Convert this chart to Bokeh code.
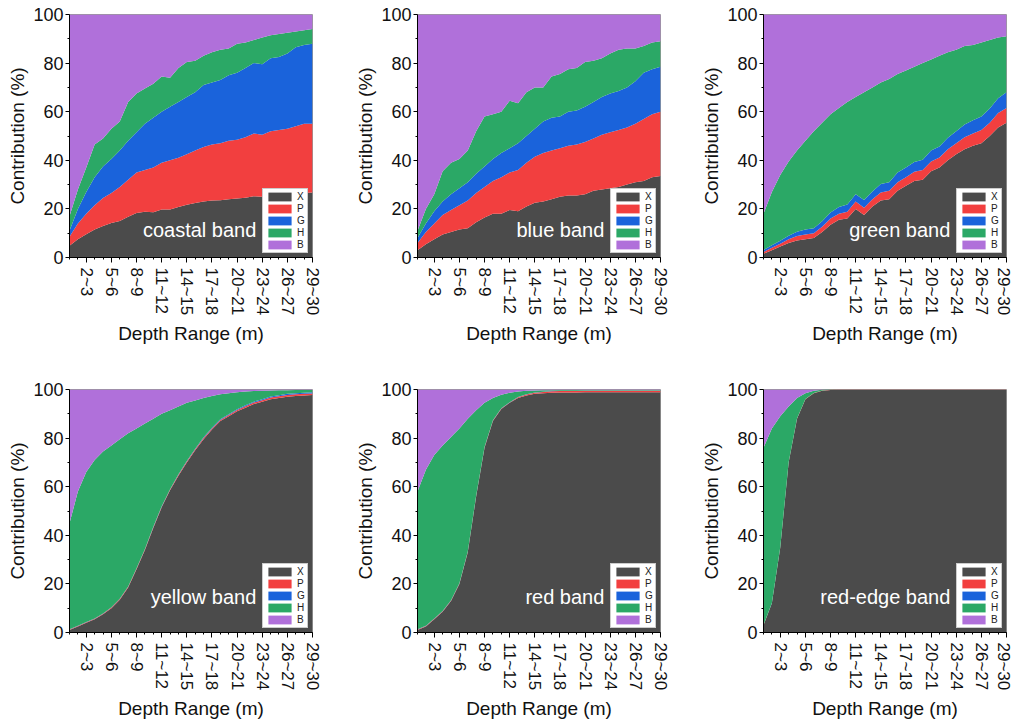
from bokeh.plotting import figure
from bokeh.models import Range1d, FixedTicker, Label, ColumnDataSource
from bokeh.layouts import column, row
from bokeh.embed import file_html
from bokeh.resources import INLINE

# ---------------- data ----------------
depth_ranges = ["0~1", "1~2", "2~3", "3~4", "4~5", "5~6", "6~7", "7~8", "8~9", "9~10",
                "10~11", "11~12", "12~13", "13~14", "14~15", "15~16", "16~17", "17~18",
                "18~19", "19~20", "20~21", "21~22", "22~23", "23~24", "24~25", "25~26",
                "26~27", "27~28", "28~29", "29~30"]
tick_labels = ["2~3", "5~6", "8~9", "11~12", "14~15", "17~18", "20~21", "23~24", "26~27", "29~30"]
components = ["X", "P", "G", "H", "B"]
component_colors = ["#4b4b4b", "#f23f3f", "#1a63db", "#2ba866", "#b070da"]
band_names = ["coastal band", "blue band", "green band", "yellow band", "red band", "red-edge band"]

coastal_X = [4.8, 7.5, 9.6, 11.5, 13, 14.2, 15, 16.8, 18.3, 18.8, 18.6, 19.8, 19.8, 20.8, 21.7,
             22.4, 23, 23.5, 23.6, 24, 24.3, 24.6, 25.2, 25, 25.4, 25.8, 26, 26.3, 26.5, 26.8]
coastal_P = [3.7, 6.5, 8.4, 10, 11.5, 12.3, 14, 15.2, 16.7, 17.2, 18.4, 19.2, 20.2, 20.2, 20.8,
             21.6, 22.5, 23, 23.4, 24, 24.2, 24.9, 25.8, 25.5, 26.6, 26.7, 27, 27.7, 28.5, 28.2]
coastal_G = [2.5, 6, 9, 11.5, 13, 14, 15, 16, 16.5, 19, 20.5, 21, 22, 23, 23.5,
             24, 25.5, 25.5, 26, 27, 27.5, 28.5, 29, 29, 30, 30, 31, 32.5, 32.5, 33]
coastal_H = [6, 8, 10, 13.5, 11.5, 12.5, 12, 16, 16, 14.5, 14, 14.5, 12, 14, 14.5,
             13, 12, 12.5, 12.5, 11, 12, 10.5, 9.5, 11, 9.5, 9.5, 8.5, 6.5, 6, 6]
coastal_B = [83, 72, 63, 53.5, 51, 47, 44, 36, 32.5, 30.5, 28.5, 25.5, 26, 22, 19.5,
             19, 17, 15.5, 14.5, 14, 12, 11.5, 10.5, 9.5, 8.5, 8, 7.5, 7, 6.5, 6]

blue_X = [3, 5.5, 7.5, 9.5, 10.5, 11.5, 12, 14.5, 16.5, 18, 18, 19.5, 19, 21, 22.5,
          23, 24, 25, 25.5, 25.5, 26, 27.5, 28, 28.5, 29, 30, 31, 31.5, 33, 33.5]
blue_P = [3, 5, 6.5, 8, 9, 10, 11.5, 12, 12.5, 13.5, 15, 15.5, 17, 18, 19,
          20, 20, 20, 20.5, 21, 21.5, 21.5, 22.5, 23, 23.5, 23.5, 24, 25.5, 26, 26.5]
blue_G = [2, 3.5, 5, 5.5, 6.5, 7, 7.5, 8, 8.5, 9, 10, 10, 11, 11, 11.5,
          13, 13.5, 13, 14, 14, 14.5, 15, 15.5, 16, 16, 16.5, 17.5, 19, 18.5, 18.5]
blue_H = [3, 6, 7, 12.5, 13, 12, 13, 17.5, 20.5, 18.5, 17, 19.5, 16.5, 18, 17,
          14, 17, 17.5, 17.5, 17.5, 18.5, 17, 16, 16.5, 17, 16, 13.5, 11, 11, 10.5]
blue_B = [89, 80, 74, 64.5, 61, 59.5, 56, 48, 42, 41, 40, 35.5, 36.5, 32, 30,
          30, 25.5, 24.5, 22.5, 22, 19.5, 19, 18, 16, 14.5, 14, 14, 13, 11.5, 11]

green_X = [1.5, 3, 4.5, 6, 7, 7.5, 8, 10.5, 13.5, 15.5, 16, 20, 17.5, 21, 23.5,
           24, 27.5, 29.5, 31.5, 32, 35.5, 37, 40, 42.5, 44.5, 46, 47, 50, 53.5, 55.5]
green_P = [0.8, 1, 1.2, 1.5, 1.8, 2, 2, 2.2, 2.5, 2.5, 2.8, 3, 3, 3, 3.2,
           3.5, 3.5, 3.5, 3.8, 4, 4, 4.2, 4.5, 4.5, 5, 5, 5.5, 5.5, 6, 6]
green_G = [0.8, 1, 1.2, 1.5, 1.8, 2, 2, 2.2, 2.5, 2.8, 3, 3, 3.2, 3.2, 3.5,
           3.5, 4, 4, 4, 4.2, 4.5, 4.5, 4.8, 5, 5.2, 5.5, 5.5, 5.8, 6, 6.5]
green_H = [14.9, 22, 27.1, 30.5, 33.4, 36.5, 40, 40.6, 40.5, 40.7, 42.2, 40, 44.3, 42.8, 41.8,
           42.5, 40.5, 40, 39.2, 39.8, 37.5, 37.3, 35.2, 33.5, 32.3, 31, 30.5, 28.2, 25, 23]
green_B = [82, 73, 66, 60.5, 56, 52, 48, 44.5, 41, 38.5, 36, 34, 32, 30, 28,
           26.5, 24.5, 23, 21.5, 20, 18.5, 17, 15.5, 14.5, 13, 12.5, 11.5, 10.5, 9.5, 9]

yellow_X = [1, 2.5, 4, 5.5, 7.5, 10, 13.5, 18.5, 26, 34, 43, 51.5, 58.5, 64.5, 70,
            75, 79.5, 83.5, 87, 89, 91, 92.5, 94, 95, 96, 96.5, 97, 97.3, 97.5, 97.7]
yellow_P = [0.2, 0.2, 0.2, 0.2, 0.2, 0.3, 0.3, 0.3, 0.3, 0.3, 0.3, 0.3, 0.3, 0.4, 0.4,
            0.4, 0.5, 0.5, 0.5, 0.5, 0.6, 0.6, 0.6, 0.6, 0.7, 0.7, 0.7, 0.7, 0.7, 0.7]
yellow_G = [0.1, 0.1, 0.1, 0.1, 0.1, 0.1, 0.1, 0.1, 0.1, 0.1, 0.2, 0.2, 0.2, 0.2, 0.2,
            0.2, 0.3, 0.3, 0.3, 0.3, 0.3, 0.4, 0.4, 0.4, 0.4, 0.4, 0.5, 0.5, 0.5, 0.5]
yellow_H = [43.7, 55.2, 61.7, 65.2, 66.7, 66.6, 65.6, 63.1, 57.6, 51.6, 44.5, 38, 32.5, 27.9, 23.9,
            19.9, 16.2, 13, 10.2, 8.7, 7, 5.7, 4.4, 3.5, 2.5, 2.1, 1.5, 1.3, 1.1, 0.9]
yellow_B = [55, 42, 34, 29, 25.5, 23, 20.5, 18, 16, 14, 12, 10, 8.5, 7, 5.5,
            4.5, 3.5, 2.7, 2, 1.5, 1.1, 0.8, 0.6, 0.5, 0.4, 0.3, 0.3, 0.2, 0.2, 0.2]

red_X = [1, 2.5, 5.5, 8.5, 13, 20, 33, 56, 76, 87, 92, 94.5, 96.5, 97.5, 98.2,
         98.5, 98.7, 98.8, 98.8, 98.8, 98.9, 98.9, 98.9, 98.9, 98.9, 98.9, 98.9, 98.9, 98.9, 98.9]
red_P = [0.2, 0.2, 0.2, 0.2, 0.2, 0.2, 0.2, 0.2, 0.2, 0.2, 0.2, 0.2, 0.3, 0.4, 0.5,
         0.5, 0.6, 0.6, 0.6, 0.6, 0.6, 0.6, 0.6, 0.6, 0.6, 0.6, 0.6, 0.6, 0.6, 0.6]
red_G = [0.1, 0.1, 0.1, 0.1, 0.1, 0.1, 0.1, 0.1, 0.1, 0.1, 0.1, 0.1, 0.1, 0.1, 0.1,
         0.1, 0.1, 0.1, 0.1, 0.1, 0.1, 0.1, 0.1, 0.1, 0.1, 0.1, 0.1, 0.1, 0.1, 0.1]
red_H = [56.7, 64.2, 67.2, 68.2, 67.2, 63.7, 54.7, 35.2, 18.2, 9.2, 5.5, 3.9, 2.3, 1.5, 0.8,
         0.6, 0.3, 0.3, 0.3, 0.3, 0.2, 0.2, 0.2, 0.2, 0.2, 0.2, 0.2, 0.2, 0.2, 0.2]
red_B = [42, 33, 27, 23, 19.5, 16, 12, 8.5, 5.5, 3.5, 2.2, 1.3, 0.8, 0.5, 0.4,
         0.3, 0.3, 0.2, 0.2, 0.2, 0.2, 0.2, 0.2, 0.2, 0.2, 0.2, 0.2, 0.2, 0.2, 0.2]

rededge_X = [3, 12, 35, 70, 88, 96, 98.5, 99.5, 99.8, 99.9, 99.9, 99.9, 99.9, 99.9, 99.9,
             99.9, 99.9, 99.9, 99.9, 99.9, 99.9, 99.9, 99.9, 99.9, 99.9, 99.9, 99.9, 99.9, 99.9, 99.9]
rededge_P = [0.05, 0.05, 0.05, 0.05, 0.05, 0.05, 0.05, 0.05, 0.05, 0.05, 0.05, 0.05, 0.05, 0.05, 0.05,
             0.05, 0.05, 0.05, 0.05, 0.05, 0.05, 0.05, 0.05, 0.05, 0.05, 0.05, 0.05, 0.05, 0.05, 0.05]
rededge_G = [0.05, 0.05, 0.05, 0.05, 0.05, 0.05, 0.05, 0.05, 0.05, 0.05, 0.05, 0.05, 0.05, 0.05, 0.05,
             0.05, 0.05, 0.05, 0.05, 0.05, 0.05, 0.05, 0.05, 0.05, 0.05, 0.05, 0.05, 0.05, 0.05, 0.05]
rededge_H = [72.9, 71.9, 53.9, 22.9, 8.4, 2.4, 0.9, 0.3, 0.1, 0, 0, 0, 0, 0, 0,
             0, 0, 0, 0, 0, 0, 0, 0, 0, 0, 0, 0, 0, 0, 0]
rededge_B = [24, 16, 11, 7, 3.5, 1.5, 0.5, 0.1, 0, 0, 0, 0, 0, 0, 0,
             0, 0, 0, 0, 0, 0, 0, 0, 0, 0, 0, 0, 0, 0, 0]

band_series = [
    (coastal_X, coastal_P, coastal_G, coastal_H, coastal_B),
    (blue_X, blue_P, blue_G, blue_H, blue_B),
    (green_X, green_P, green_G, green_H, green_B),
    (yellow_X, yellow_P, yellow_G, yellow_H, yellow_B),
    (red_X, red_P, red_G, red_H, red_B),
    (rededge_X, rededge_P, rededge_G, rededge_H, rededge_B),
]

# ---------------- drawing ----------------
FONT = "Liberation Sans"


def make_panel(name, series, width, height, left, right, top, bottom, label_y):
    xs = list(range(len(depth_ranges)))
    data = {"x": xs}
    for comp, vals in zip(components, series):
        data[comp] = vals
    src = ColumnDataSource(data)

    p = figure(width=width, height=height, output_backend="svg", toolbar_location=None,
               x_range=Range1d(0, len(depth_ranges) - 1), y_range=Range1d(0, 100),
               min_border_left=left, min_border_right=right,
               min_border_top=top, min_border_bottom=bottom)
    p.varea_stack(stackers=components, x="x", color=component_colors,
                  legend_label=components, source=src)

    tick_pos = [depth_ranges.index(t) for t in tick_labels]
    p.xaxis.ticker = FixedTicker(ticks=tick_pos, minor_ticks=xs)
    p.xaxis.major_label_overrides = {pos: lbl for pos, lbl in zip(tick_pos, tick_labels)}
    p.xaxis.major_label_orientation = "vertical"
    p.yaxis.ticker = FixedTicker(ticks=[0, 20, 40, 60, 80, 100], minor_ticks=[10, 30, 50, 70, 90])

    p.xaxis.axis_label = "Depth Range (m)"
    p.yaxis.axis_label = "Contribution (%)"
    for ax in (p.xaxis[0], p.yaxis[0]):
        ax.axis_line_color = "black"
        ax.major_tick_line_color = "black"
        ax.minor_tick_line_color = "black"
        ax.major_tick_in = 0
        ax.minor_tick_in = 0
        ax.major_label_text_font = FONT
        ax.axis_label_text_font = FONT
        ax.axis_label_text_font_style = "normal"
        ax.axis_label_text_font_size = "19px"
        ax.major_label_text_color = "#111111"
        ax.axis_label_text_color = "#111111"
    p.xaxis.major_tick_out = 5
    p.xaxis.minor_tick_out = 2
    p.xaxis.major_label_text_font_size = "17px"
    p.xaxis.major_label_standoff = 5
    p.xaxis.axis_label_standoff = 5
    p.yaxis.major_tick_out = 4
    p.yaxis.minor_tick_out = 2
    p.yaxis.major_label_text_font_size = "18px"
    p.yaxis.major_label_standoff = 2
    p.yaxis.axis_label_standoff = 2

    p.xgrid.visible = False
    p.ygrid.visible = False
    p.outline_line_color = "#9a9a9a"
    p.outline_line_width = 1

    lg = p.legend[0]
    lg.location = "bottom_right"
    lg.margin = 4
    lg.padding = 2
    lg.spacing = 1
    lg.glyph_width = 29
    lg.glyph_height = 11
    lg.label_height = 11
    lg.label_width = 8
    lg.label_standoff = 3
    lg.label_text_font = FONT
    lg.label_text_font_size = "10px"
    lg.label_text_color = "#222222"
    lg.border_line_color = "#999999"
    lg.background_fill_color = "white"
    lg.background_fill_alpha = 1

    p.add_layout(Label(x=22.3, y=label_y, text=name, text_align="right",
                       text_baseline="middle", text_color="white", text_font=FONT,
                       text_font_size="20px"))
    return p


# page has no body margin (Bokeh template), so figures start at (0, 0)
top_h, bot_h = 375, 350
widths = [347, 349, 316]
lefts = [69, 70, 67]
rights = [35, 36, 6]

panels_top = []
panels_bot = []
for i in range(3):
    panels_top.append(make_panel(band_names[i], band_series[i], widths[i], top_h,
                                 lefts[i], rights[i], 14, 118, 11.5))
    panels_bot.append(make_panel(band_names[i + 3], band_series[i + 3], widths[i], bot_h,
                                 lefts[i], rights[i], 14, 93, 14.5))

layout = column(row(*panels_top), row(*panels_bot))
open("out.html", "w").write(file_html(layout, INLINE))
